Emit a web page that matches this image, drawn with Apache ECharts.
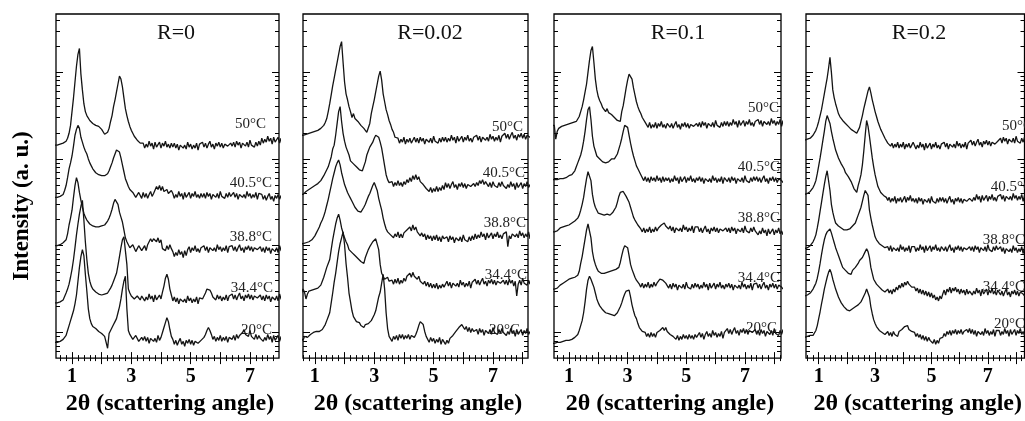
<!DOCTYPE html>
<html>
<head>
<meta charset="utf-8">
<title>SAXS curves</title>
<script src="https://cdn.jsdelivr.net/npm/echarts@6/dist/echarts.min.js"></script>
<style>
  html, body { margin: 0; padding: 0; background: #fff; }
  #chart { width: 1025px; height: 421px; }
</style>
</head>
<body>
<div id="chart"></div>
<script>
// 2theta sampling shared by every curve (degrees)
const twoTheta = [
  0.4, 0.45, 0.5, 0.55, 0.6, 0.65, 0.7, 0.75, 0.8, 0.85, 0.9, 0.95, 1.0, 1.05, 1.1, 1.15, 1.2, 1.25, 1.3, 1.35,
  1.4, 1.45, 1.5, 1.55, 1.6, 1.65, 1.7, 1.75, 1.8, 1.85, 1.9, 1.95, 2.0, 2.05, 2.1, 2.15, 2.2, 2.25, 2.3, 2.35,
  2.4, 2.45, 2.5, 2.55, 2.6, 2.65, 2.7, 2.75, 2.8, 2.85, 2.9, 2.95, 3.0, 3.05, 3.1, 3.15, 3.2, 3.25, 3.3, 3.35,
  3.4, 3.45, 3.5, 3.55, 3.6, 3.65, 3.7, 3.75, 3.8, 3.85, 3.9, 3.95, 4.0, 4.05, 4.1, 4.15, 4.2, 4.25, 4.3, 4.35,
  4.4, 4.45, 4.5, 4.55, 4.6, 4.65, 4.7, 4.75, 4.8, 4.85, 4.9, 4.95, 5.0, 5.05, 5.1, 5.15, 5.2, 5.25, 5.3, 5.35,
  5.4, 5.45, 5.5, 5.55, 5.6, 5.65, 5.7, 5.75, 5.8, 5.85, 5.9, 5.95, 6.0, 6.05, 6.1, 6.15, 6.2, 6.25, 6.3, 6.35,
  6.4, 6.45, 6.5, 6.55, 6.6, 6.65, 6.7, 6.75, 6.8, 6.85, 6.9, 6.95, 7.0, 7.05, 7.1, 7.15, 7.2, 7.25, 7.3, 7.35,
  7.4, 7.45, 7.5, 7.55, 7.6, 7.65, 7.7, 7.75, 7.8, 7.85, 7.9, 7.95, 8.0, 8.05, 8.1, 8.15, 8.2, 8.25, 8.3
];

const ratios = ['R=0', 'R=0.02', 'R=0.1', 'R=0.2'];
const temperatures = ['50\u00b0C', '40.5\u00b0C', '38.8\u00b0C', '34.4\u00b0C', '20\u00b0C'];

const xLabelTicks = [1, 3, 5, 7];
const xMajorTicks = [1, 2, 3, 4, 5, 6, 7, 8];
const xMinorTicks = [0.6, 0.8, 1.2, 1.4, 1.6, 1.8, 2.2, 2.4, 2.6, 2.8, 3.2, 3.4, 3.6, 3.8,
  4.2, 4.4, 4.6, 4.8, 5.2, 5.4, 5.6, 5.8, 6.2, 6.4, 6.6, 6.8, 7.2, 7.4, 7.6, 7.8, 8.2];
const yMajorTicks = [26, 114, 202, 290];
const yMinorTicks = [6.5, 12.4, 17.5, 22,
  52.5, 68, 79, 87.5, 94.5, 100.4, 105.5, 110,
  140.5, 156, 167, 175.5, 182.5, 188.4, 193.5, 198,
  228.5, 244, 255, 263.5, 270.5, 276.4, 281.5, 286,
  316.5, 332, 343];

// R = 0 (stacked intensity, arbitrary units)
const r0_t50 = [
  216, 215, 216, 217, 217, 218, 218, 219, 220, 223, 228, 236, 250, 264, 280, 296, 308, 314, 288, 272,
  258, 250, 246, 244, 241, 240, 238, 239, 236, 237, 235, 233, 232, 230, 227, 225, 229, 233, 240, 246,
  255, 262, 270, 278, 286, 283, 275, 264, 253, 246, 240, 235, 231, 228, 225, 223, 221, 219, 218, 220,
  218, 213, 217, 214, 220, 215, 218, 212, 219, 214, 216, 219, 213, 218, 215, 220, 214, 217, 213, 218,
  214, 218, 213, 217, 211, 216, 218, 213, 216, 212, 219, 214, 217, 212, 216, 213, 218, 211, 217, 215,
  219, 214, 218, 213, 217, 220, 214, 217, 212, 218, 215, 219, 214, 218, 213, 217, 219, 215, 213, 218,
  215, 219, 214, 220, 216, 219, 213, 218, 220, 215, 219, 214, 221, 216, 218, 214, 219, 215, 220, 216,
  223, 218, 222, 219, 225, 220, 223, 217, 224, 219, 221, 224, 218, 223, 220, 225, 219, 222, 218
];
const r0_t405 = [
  163, 162, 163, 164, 164, 165, 166, 170, 175, 183, 192, 198, 205, 215, 226, 232, 236, 233, 224, 219,
  214, 210, 207, 202, 198, 195, 192, 190, 188, 187, 186, 184, 185, 183, 185, 184, 187, 190, 194, 198,
  203, 207, 211, 211, 209, 203, 196, 189, 182, 178, 174, 171, 169, 168, 167, 163, 164, 168, 167, 162,
  168, 163, 167, 162, 166, 169, 164, 167, 168, 174, 171, 175, 170, 174, 169, 169, 171, 167, 165, 170,
  167, 162, 166, 163, 169, 164, 167, 161, 168, 163, 165, 168, 162, 167, 164, 169, 163, 166, 162, 167,
  163, 167, 162, 168, 164, 167, 161, 166, 168, 163, 167, 162, 169, 164, 166, 162, 167, 163, 168, 164,
  164, 168, 163, 167, 161, 166, 168, 163, 166, 162, 169, 164, 167, 162, 166, 163, 168, 161, 167, 165,
  166, 161, 165, 160, 164, 167, 161, 164, 159, 165, 162, 166, 161, 165, 160, 164, 166, 162, 160
];
const r0_t388 = [
  114, 113, 114, 115, 115, 116, 117, 118, 120, 126, 135, 142, 150, 163, 175, 183, 178, 168, 160, 153,
  147, 143, 140, 138, 136, 135, 134, 135, 133, 134, 133, 132, 134, 133, 135, 136, 139, 142, 146, 151,
  157, 161, 163, 156, 148, 143, 138, 130, 122, 118, 115, 112, 111, 115, 113, 108, 109, 114, 113, 109,
  110, 114, 109, 115, 117, 121, 118, 121, 123, 118, 122, 117, 120, 111, 113, 109, 114, 110, 115, 111,
  108, 103, 107, 104, 110, 105, 108, 102, 109, 104, 110, 113, 107, 112, 109, 114, 108, 111, 107, 112,
  110, 114, 109, 113, 107, 112, 114, 109, 112, 108, 115, 110, 113, 108, 112, 109, 114, 107, 113, 111,
  114, 109, 113, 108, 112, 115, 109, 112, 107, 113, 110, 114, 109, 113, 108, 112, 114, 110, 108, 113,
  108, 112, 107, 113, 109, 112, 106, 111, 113, 108, 112, 107, 114, 109, 111, 107, 112, 108, 113
];
const r0_t344 = [
  56, 55, 56, 57, 57, 58, 59, 61, 66, 70, 75, 82, 90, 100, 112, 125, 136, 146, 154, 160,
  140, 118, 100, 86, 78, 73, 70, 68, 67, 66, 65, 64, 64, 63, 65, 64, 66, 68, 71, 74,
  78, 82, 86, 94, 103, 112, 120, 123, 122, 95, 70, 66, 63, 62, 60, 58, 63, 61, 59, 63,
  63, 58, 62, 59, 65, 60, 63, 57, 64, 59, 61, 64, 60, 67, 73, 81, 85, 80, 70, 64,
  58, 62, 57, 61, 55, 60, 62, 57, 60, 56, 63, 58, 61, 56, 60, 57, 62, 55, 61, 59,
  60, 63, 66, 70, 71, 69, 66, 62, 63, 59, 64, 60, 63, 58, 62, 59, 64, 58, 63, 61,
  65, 60, 64, 59, 63, 66, 60, 63, 58, 64, 61, 65, 60, 64, 59, 63, 65, 61, 59, 64,
  59, 63, 58, 64, 60, 63, 57, 62, 64, 59, 63, 58, 65, 60, 62, 58, 63, 59, 64
];
const r0_t20 = [
  16, 15, 16, 17, 17, 18, 19, 21, 23, 28, 33, 38, 43, 48, 55, 64, 78, 92, 103, 110,
  104, 85, 68, 50, 40, 35, 32, 31, 30, 28, 27, 26, 25, 24, 22, 24, 10, 25, 28, 31,
  34, 37, 40, 46, 52, 60, 70, 78, 83, 50, 28, 24, 22, 19, 20, 23, 22, 17, 18, 21,
  18, 22, 17, 21, 15, 20, 22, 17, 20, 16, 23, 18, 21, 26, 31, 36, 41, 37, 29, 22,
  19, 14, 18, 13, 17, 20, 14, 17, 12, 18, 15, 19, 14, 18, 13, 17, 19, 15, 13, 18,
  18, 21, 24, 28, 31, 28, 24, 19, 22, 17, 21, 18, 23, 17, 21, 18, 22, 16, 21, 19,
  19, 23, 18, 24, 20, 23, 22, 26, 29, 24, 26, 22, 28, 22, 24, 19, 24, 19, 23, 20,
  22, 17, 21, 18, 24, 19, 22, 16, 23, 18, 20, 23, 17, 22, 19, 24, 18, 21, 17
];

// R = 0.02
const r02_t50 = [
  226, 226, 226, 225, 226, 227, 227, 228, 228, 229, 229, 230, 230, 231, 231, 232, 233, 234, 236, 239,
  243, 250, 258, 267, 276, 284, 292, 300, 308, 316, 321, 300, 280, 268, 262, 255, 250, 244, 248, 243,
  245, 240, 241, 236, 238, 233, 232, 229, 228, 238, 248, 255, 262, 270, 278, 286, 291, 282, 268, 260,
  252, 247, 241, 237, 232, 229, 224, 226, 223, 218, 222, 219, 224, 217, 222, 219, 223, 218, 221, 224,
  219, 223, 218, 224, 220, 223, 217, 222, 224, 219, 223, 218, 225, 220, 222, 218, 223, 219, 224, 220,
  224, 219, 223, 220, 226, 221, 224, 218, 225, 220, 222, 225, 219, 224, 221, 226, 220, 223, 219, 224,
  222, 226, 221, 225, 219, 224, 226, 221, 224, 220, 227, 222, 225, 220, 224, 221, 226, 219, 225, 223,
  228, 223, 227, 222, 226, 229, 223, 226, 221, 227, 224, 228, 223, 227, 222, 226, 228, 224, 222
];
const r02_t405 = [
  167, 167, 166, 167, 166, 168, 169, 170, 171, 172, 173, 174, 175, 176, 177, 178, 180, 182, 185, 188,
  191, 194, 196, 204, 212, 216, 226, 238, 250, 255, 240, 228, 220, 214, 212, 206, 200, 202, 197, 199,
  194, 196, 191, 193, 190, 192, 199, 206, 210, 214, 216, 219, 223, 226, 228, 224, 219, 213, 204, 195,
  186, 181, 178, 176, 179, 174, 178, 175, 180, 175, 178, 174, 179, 176, 181, 178, 183, 179, 185, 181,
  186, 181, 184, 179, 180, 176, 177, 172, 174, 169, 173, 168, 172, 169, 174, 169, 173, 170, 175, 171,
  178, 173, 177, 172, 176, 179, 173, 176, 171, 177, 174, 178, 173, 177, 172, 176, 178, 174, 172, 177,
  174, 178, 175, 180, 177, 181, 176, 179, 180, 174, 178, 173, 179, 175, 177, 173, 178, 174, 179, 175,
  177, 172, 176, 173, 179, 174, 177, 171, 178, 173, 175, 178, 172, 177, 174, 179, 173, 176, 172
];
const r02_t388 = [
  116, 117, 116, 115, 116, 117, 117, 118, 118, 119, 120, 122, 124, 127, 130, 133, 137, 140, 144, 149,
  155, 161, 168, 175, 182, 188, 194, 198, 201, 196, 188, 182, 176, 172, 168, 165, 162, 159, 156, 153,
  151, 149, 150, 148, 150, 153, 156, 160, 164, 167, 171, 175, 178, 177, 170, 162, 156, 150, 142, 136,
  131, 128, 126, 125, 127, 122, 126, 123, 128, 122, 126, 122, 127, 125, 130, 128, 133, 129, 135, 130,
  133, 128, 130, 124, 127, 123, 126, 120, 125, 121, 124, 119, 124, 120, 125, 119, 123, 118, 124, 121,
  119, 123, 118, 124, 120, 123, 117, 122, 124, 119, 123, 118, 125, 120, 122, 118, 123, 119, 124, 120,
  126, 121, 125, 122, 128, 123, 126, 120, 127, 122, 124, 127, 121, 126, 123, 128, 122, 125, 121, 126,
  124, 128, 113, 124, 121, 126, 128, 123, 126, 122, 129, 124, 127, 122, 126, 123, 128, 121, 127
];
const r02_t344 = [
  62, 62, 62, 64, 70, 67, 60, 65, 68, 69, 69, 70, 70, 71, 71, 72, 74, 78, 82, 87,
  92, 96, 100, 110, 120, 128, 136, 142, 146, 140, 132, 127, 122, 118, 115, 110, 109, 107, 106, 104,
  105, 101, 103, 98, 97, 96, 102, 106, 110, 113, 115, 118, 120, 121, 121, 110, 95, 86, 83, 80,
  79, 82, 78, 77, 79, 75, 80, 76, 81, 75, 79, 76, 81, 78, 83, 81, 86, 82, 87, 83,
  85, 80, 83, 78, 80, 75, 78, 73, 77, 72, 76, 71, 75, 71, 76, 70, 74, 71, 75, 72,
  74, 78, 73, 77, 71, 76, 78, 73, 76, 72, 79, 74, 77, 72, 76, 73, 78, 71, 77, 75,
  80, 75, 79, 74, 78, 81, 75, 78, 73, 79, 76, 80, 75, 79, 74, 78, 80, 76, 74, 79,
  75, 79, 74, 80, 76, 79, 73, 78, 63, 75, 79, 74, 81, 76, 78, 74, 79, 75, 80
];
const r02_t20 = [
  21, 20, 21, 19, 18, 22, 20, 21, 22, 24, 25, 26, 26, 27, 27, 27, 28, 29, 31, 34,
  38, 42, 46, 56, 66, 77, 86, 97, 108, 116, 122, 128, 115, 96, 82, 66, 57, 48, 42, 40,
  37, 35, 36, 33, 35, 31, 34, 32, 35, 33, 38, 41, 44, 48, 55, 62, 67, 76, 85, 70,
  46, 30, 22, 20, 17, 22, 19, 23, 18, 24, 20, 24, 19, 23, 20, 24, 19, 23, 25, 21,
  24, 28, 33, 37, 38, 34, 27, 22, 20, 16, 21, 17, 20, 15, 19, 16, 21, 14, 19, 17,
  14, 18, 15, 20, 18, 23, 22, 27, 26, 31, 29, 34, 33, 29, 32, 27, 31, 26, 30, 27,
  25, 29, 24, 30, 26, 29, 23, 28, 30, 25, 29, 24, 31, 26, 28, 24, 29, 25, 30, 26,
  28, 23, 27, 24, 30, 25, 28, 22, 29, 24, 26, 29, 23, 28, 25, 30, 24, 27, 23
];

// R = 0.1
const r01_t50 = [
  236, 236, 236, 222, 230, 233, 235, 235, 235, 236, 236, 237, 237, 238, 238, 239, 239, 240, 242, 245,
  250, 255, 262, 270, 278, 290, 302, 312, 316, 300, 283, 272, 265, 261, 258, 254, 253, 250, 253, 249,
  251, 247, 249, 244, 246, 241, 243, 240, 250, 256, 265, 274, 282, 288, 290, 283, 274, 267, 260, 255,
  251, 248, 244, 242, 239, 238, 234, 239, 233, 237, 234, 239, 233, 238, 235, 240, 234, 237, 233, 238,
  239, 234, 238, 233, 237, 240, 234, 237, 232, 238, 235, 239, 234, 238, 233, 237, 239, 235, 233, 238,
  235, 239, 234, 240, 236, 239, 233, 238, 240, 235, 239, 234, 241, 236, 238, 234, 239, 235, 240, 236,
  240, 235, 239, 236, 242, 237, 240, 234, 241, 236, 238, 241, 235, 240, 237, 242, 236, 239, 235, 240,
  238, 242, 237, 241, 235, 240, 242, 237, 240, 236, 243, 238, 241, 236, 240, 237, 242, 235, 241
];
const r01_t405 = [
  181, 181, 181, 182, 181, 181, 182, 182, 182, 183, 183, 184, 185, 186, 186, 187, 190, 194, 198, 202,
  206, 212, 220, 230, 242, 252, 255, 242, 225, 215, 210, 205, 203, 202, 201, 199, 200, 198, 200, 199,
  201, 202, 203, 202, 204, 207, 212, 217, 223, 230, 236, 238, 234, 226, 218, 211, 205, 200, 195, 192,
  189, 186, 184, 180, 184, 179, 183, 178, 184, 180, 183, 179, 185, 180, 183, 178, 184, 179, 183, 180,
  183, 178, 182, 179, 185, 180, 183, 177, 184, 179, 181, 184, 178, 183, 180, 185, 179, 182, 178, 183,
  180, 184, 179, 183, 177, 182, 184, 179, 182, 178, 185, 180, 183, 178, 182, 179, 184, 177, 183, 181,
  179, 183, 178, 184, 180, 183, 177, 182, 184, 179, 183, 178, 185, 180, 182, 178, 183, 179, 184, 180,
  184, 179, 183, 178, 182, 185, 179, 182, 177, 183, 180, 184, 179, 183, 178, 182, 184, 180, 178
];
const r01_t388 = [
  128, 128, 128, 127, 129, 131, 132, 133, 133, 134, 134, 135, 135, 136, 137, 138, 139, 140, 142, 145,
  150, 156, 163, 173, 182, 189, 191, 180, 166, 158, 153, 150, 147, 146, 146, 144, 145, 144, 146, 144,
  145, 146, 148, 150, 153, 158, 164, 168, 170, 169, 167, 164, 162, 158, 153, 148, 143, 140, 138, 135,
  133, 131, 128, 132, 127, 131, 128, 133, 127, 131, 128, 133, 129, 132, 131, 135, 133, 137, 134, 136,
  131, 134, 129, 133, 127, 132, 134, 129, 132, 128, 135, 130, 133, 128, 132, 129, 134, 127, 133, 131,
  133, 128, 132, 127, 131, 134, 128, 131, 126, 132, 129, 133, 128, 132, 127, 131, 133, 129, 127, 132,
  128, 132, 127, 133, 129, 132, 126, 131, 133, 128, 132, 127, 134, 129, 131, 127, 132, 128, 133, 129,
  130, 125, 129, 126, 132, 127, 130, 124, 131, 126, 128, 131, 125, 130, 127, 132, 126, 129, 125
];
const r01_t344 = [
  70, 70, 70, 71, 71, 73, 74, 75, 76, 77, 78, 79, 80, 80, 81, 81, 82, 83, 84, 88,
  96, 103, 112, 121, 130, 136, 134, 122, 108, 100, 95, 91, 88, 87, 86, 86, 86, 85, 87, 86,
  88, 87, 89, 88, 90, 91, 92, 97, 104, 110, 114, 115, 112, 104, 95, 90, 86, 82, 79, 77,
  75, 72, 76, 71, 75, 72, 77, 71, 75, 72, 77, 73, 76, 78, 80, 82, 79, 81, 76, 78,
  71, 75, 70, 76, 72, 75, 69, 74, 76, 71, 75, 70, 77, 72, 74, 70, 75, 71, 76, 72,
  75, 70, 74, 71, 77, 72, 75, 69, 76, 71, 73, 76, 70, 75, 72, 77, 71, 74, 70, 75,
  72, 76, 71, 75, 69, 74, 76, 71, 74, 70, 77, 72, 75, 70, 74, 71, 76, 69, 75, 73,
  76, 71, 75, 70, 74, 77, 71, 74, 69, 75, 72, 76, 71, 75, 70, 74, 76, 72, 70
];
const r01_t20 = [
  15, 15, 15, 14, 16, 16, 16, 17, 17, 17, 18, 18, 18, 19, 19, 20, 21, 22, 24, 28,
  33, 38, 46, 57, 70, 79, 83, 80, 76, 72, 66, 60, 56, 53, 51, 49, 47, 46, 46, 45,
  44, 44, 43, 43, 44, 46, 48, 52, 56, 61, 65, 68, 70, 69, 62, 54, 48, 43, 40, 35,
  31, 29, 27, 25, 26, 22, 25, 21, 26, 22, 25, 21, 26, 24, 28, 27, 31, 28, 31, 27,
  28, 24, 26, 22, 24, 19, 23, 18, 22, 19, 24, 20, 23, 19, 24, 20, 23, 19, 24, 21,
  22, 26, 21, 25, 19, 24, 27, 22, 25, 21, 28, 23, 26, 21, 25, 22, 27, 20, 26, 24,
  30, 25, 29, 24, 28, 31, 25, 28, 23, 29, 26, 30, 25, 29, 24, 28, 30, 26, 24, 29,
  24, 28, 23, 29, 25, 28, 22, 27, 29, 24, 28, 23, 30, 25, 27, 23, 28, 24, 29
];

// R = 0.2
const r2_t50 = [
  221, 221, 221, 221, 222, 223, 223, 224, 226, 228, 231, 235, 240, 246, 252, 260, 268, 276, 284, 294,
  305, 290, 272, 264, 258, 253, 248, 245, 246, 241, 242, 238, 239, 235, 236, 232, 234, 230, 231, 228,
  230, 234, 240, 246, 253, 259, 265, 271, 275, 269, 262, 256, 250, 245, 240, 236, 232, 229, 226, 223,
  221, 218, 219, 215, 218, 213, 217, 214, 219, 213, 217, 214, 219, 212, 217, 214, 218, 213, 216, 219,
  217, 212, 216, 213, 219, 214, 217, 211, 218, 213, 215, 218, 212, 217, 214, 219, 213, 216, 212, 217,
  215, 219, 214, 218, 212, 217, 219, 214, 217, 213, 220, 215, 218, 213, 217, 214, 219, 212, 218, 216,
  221, 216, 220, 215, 219, 222, 216, 219, 214, 220, 217, 221, 216, 220, 215, 219, 221, 217, 215, 220,
  219, 223, 218, 224, 220, 223, 217, 222, 224, 219, 223, 218, 225, 220, 222, 218, 223, 219, 224
];
const r2_t405 = [
  166, 166, 166, 167, 167, 168, 169, 171, 173, 176, 180, 187, 195, 203, 212, 221, 230, 240, 246, 248,
  238, 230, 223, 217, 211, 207, 203, 200, 197, 195, 192, 188, 189, 184, 184, 179, 178, 172, 170, 168,
  175, 180, 186, 196, 210, 226, 241, 235, 225, 214, 203, 194, 186, 180, 174, 171, 168, 166, 165, 163,
  163, 160, 163, 158, 162, 159, 164, 157, 162, 159, 163, 158, 161, 164, 158, 163, 160, 165, 159, 162,
  158, 162, 157, 163, 159, 162, 156, 161, 163, 158, 162, 157, 164, 159, 161, 157, 162, 158, 163, 159,
  163, 158, 162, 157, 161, 164, 158, 161, 156, 162, 159, 163, 158, 162, 157, 161, 163, 159, 157, 162,
  164, 159, 163, 160, 166, 161, 164, 158, 165, 160, 162, 165, 159, 164, 161, 166, 160, 163, 159, 164,
  162, 166, 161, 165, 159, 164, 166, 161, 164, 160, 167, 162, 165, 160, 164, 161, 166, 159, 165
];
const r2_t388 = [
  111, 111, 111, 112, 112, 113, 114, 116, 118, 121, 125, 132, 140, 149, 158, 167, 176, 184, 190, 188,
  170, 156, 148, 142, 137, 135, 134, 132, 132, 131, 130, 131, 130, 129, 131, 132, 134, 135, 137, 141,
  145, 149, 153, 159, 165, 170, 171, 165, 150, 142, 135, 129, 123, 120, 118, 116, 115, 114, 113, 112,
  112, 113, 109, 114, 108, 112, 114, 109, 112, 108, 115, 110, 113, 108, 112, 109, 114, 107, 113, 111,
  113, 108, 112, 109, 115, 110, 113, 107, 114, 109, 111, 114, 108, 113, 110, 115, 109, 112, 108, 113,
  114, 109, 113, 108, 112, 115, 109, 112, 107, 113, 110, 114, 109, 113, 108, 112, 114, 110, 108, 113,
  109, 113, 108, 114, 110, 113, 107, 112, 114, 109, 113, 108, 115, 110, 112, 108, 113, 109, 114, 110,
  109, 113, 108, 112, 106, 111, 113, 108, 111, 107, 114, 109, 112, 107, 111, 108, 113, 106, 112
];
const r2_t344 = [
  63, 63, 63, 64, 64, 65, 66, 68, 70, 73, 76, 81, 88, 96, 105, 113, 120, 125, 128, 130,
  131, 127, 122, 117, 112, 108, 104, 100, 96, 92, 93, 89, 90, 86, 88, 85, 89, 88, 92, 92,
  96, 99, 100, 102, 104, 108, 111, 108, 102, 92, 86, 80, 78, 75, 76, 72, 73, 69, 70, 67,
  67, 70, 66, 69, 65, 70, 67, 72, 69, 74, 71, 76, 72, 77, 74, 78, 75, 77, 72, 74,
  72, 68, 71, 66, 70, 65, 69, 64, 68, 63, 67, 62, 66, 61, 64, 59, 62, 58, 63, 60,
  65, 69, 64, 70, 67, 72, 66, 71, 68, 72, 67, 70, 65, 70, 66, 69, 64, 70, 65, 68,
  69, 64, 68, 65, 71, 66, 69, 63, 70, 65, 67, 70, 64, 69, 66, 71, 65, 68, 64, 69,
  69, 64, 68, 63, 67, 70, 64, 67, 62, 68, 65, 69, 64, 68, 63, 67, 69, 65, 63
];
const r2_t20 = [
  21, 21, 21, 22, 22, 22, 23, 23, 23, 25, 28, 33, 40, 47, 55, 62, 70, 76, 82, 87,
  90, 86, 80, 75, 70, 66, 62, 59, 56, 54, 52, 50, 49, 47, 48, 46, 50, 48, 52, 51,
  54, 55, 57, 60, 62, 66, 70, 69, 62, 52, 45, 39, 35, 32, 30, 28, 27, 26, 26, 24,
  24, 27, 23, 26, 22, 27, 24, 26, 22, 27, 25, 29, 28, 32, 30, 33, 29, 31, 27, 28,
  26, 22, 25, 21, 24, 19, 23, 18, 22, 17, 21, 18, 20, 15, 19, 14, 18, 15, 20, 18,
  21, 25, 22, 27, 24, 28, 23, 28, 25, 29, 24, 28, 25, 29, 24, 27, 25, 29, 26, 30,
  25, 29, 24, 28, 22, 27, 29, 24, 27, 23, 30, 25, 28, 23, 27, 24, 29, 22, 28, 26,
  28, 23, 27, 24, 30, 25, 28, 22, 29, 24, 26, 29, 23, 28, 25, 30, 24, 27, 23
];

const panelCurves = [
  [r0_t50, r0_t405, r0_t388, r0_t344, r0_t20],
  [r02_t50, r02_t405, r02_t388, r02_t344, r02_t20],
  [r01_t50, r01_t405, r01_t388, r01_t344, r01_t20],
  [r2_t50, r2_t405, r2_t388, r2_t344, r2_t20]
];

// layout of the four frames (pixels) and their 2theta windows
const layout = [
  { left: 56, width: 223, xMin: 0.46, xMax: 7.98, titleX: 176, labelX: [266, 272, 272, 273, 272], labelY: [124, 183, 237, 288, 330] },
  { left: 303, width: 225, xMin: 0.6, xMax: 8.18, titleX: 430, labelX: [523, 525, 526, 527, 520], labelY: [127, 173, 223, 275, 330] },
  { left: 554, width: 227, xMin: 0.49, xMax: 8.23, titleX: 678, labelX: [779, 780, 780, 780, 777], labelY: [108, 167, 218, 278, 328] },
  { left: 806, width: 222, xMin: 0.55, xMax: 8.3, titleX: 919, labelX: [1033, 1033, 1025, 1025, 1025], labelY: [126, 187, 240, 287, 324] }
];
const gridTop = 14;
const gridHeight = 349;
const serif = '"Liberation Serif", "DejaVu Serif", serif';

const chart = echarts.init(document.getElementById('chart'), null, { renderer: 'canvas' });

const grids = [];
const xAxes = [];
const yAxes = [];
const series = [];
const graphics = [];

layout.forEach((lay, p) => {
  grids.push({
    left: lay.left, top: gridTop, width: lay.width, height: gridHeight,
    show: true, borderColor: '#000', borderWidth: 1.3, backgroundColor: 'transparent'
  });

  const inRange = v => v >= lay.xMin && v <= lay.xMax;
  const tickStyle = { color: '#000', width: 1 };
  const baseX = {
    type: 'value', gridIndex: p, min: lay.xMin, max: lay.xMax,
    axisLine: { show: false }, splitLine: { show: false }
  };
  const firstX = xAxes.length;
  xAxes.push(Object.assign({}, baseX, {
    position: 'bottom',
    axisTick: { inside: true, length: 6, customValues: xMajorTicks.filter(inRange), lineStyle: tickStyle },
    axisLabel: {
      customValues: xLabelTicks, margin: 9, color: '#000',
      fontFamily: serif, fontWeight: 'bold', fontSize: 20
    },
    name: '2\u03b8 (scattering angle)', nameLocation: 'middle', nameGap: 32,
    nameTextStyle: { color: '#000', fontFamily: serif, fontWeight: 'bold', fontSize: 24, padding: [0, 0, 0, 5] }
  }));
  xAxes.push(Object.assign({}, baseX, {
    position: 'bottom',
    axisTick: { inside: true, length: 3, customValues: xMinorTicks.filter(inRange), lineStyle: tickStyle },
    axisLabel: { show: false }
  }));
  xAxes.push(Object.assign({}, baseX, {
    position: 'top',
    axisTick: { inside: true, length: 6, customValues: xMajorTicks.filter(inRange), lineStyle: tickStyle },
    axisLabel: { show: false }
  }));
  xAxes.push(Object.assign({}, baseX, {
    position: 'top',
    axisTick: { inside: true, length: 3, customValues: xMinorTicks.filter(inRange), lineStyle: tickStyle },
    axisLabel: { show: false }
  }));

  const baseY = {
    type: 'value', gridIndex: p, min: 0, max: gridHeight,
    axisLine: { show: false }, splitLine: { show: false }, axisLabel: { show: false }
  };
  const firstY = yAxes.length;
  ['left', 'right'].forEach(side => {
    yAxes.push(Object.assign({}, baseY, {
      position: side,
      axisTick: { inside: true, length: 7, customValues: yMajorTicks, lineStyle: tickStyle }
    }));
    yAxes.push(Object.assign({}, baseY, {
      position: side,
      axisTick: { inside: true, length: 4, customValues: yMinorTicks, lineStyle: tickStyle }
    }));
  });

  panelCurves[p].forEach((curve, k) => {
    if (curve.length !== twoTheta.length) console.warn('length mismatch', p, k, curve.length);
    series.push({
      type: 'line',
      name: ratios[p] + ' ' + temperatures[k],
      xAxisIndex: firstX,
      yAxisIndex: firstY,
      data: twoTheta.map((x, i) => [x, curve[i]]),
      showSymbol: false,
      symbol: 'none',
      clip: true,
      silent: true,
      lineStyle: { color: '#141414', width: 1.3 }
    });
    graphics.push({
      type: 'text', x: lay.labelX[k], y: lay.labelY[k], silent: true,
      style: {
        text: temperatures[k], fill: '#222', fontFamily: serif, fontSize: 15,
        textAlign: 'right', textVerticalAlign: 'middle'
      }
    });
  });

  graphics.push({
    type: 'text', x: lay.titleX, y: 33, silent: true,
    style: {
      text: ratios[p], fill: '#111', fontFamily: serif, fontSize: 22,
      textAlign: 'center', textVerticalAlign: 'middle'
    }
  });
});

graphics.push({
  type: 'text', x: 22, y: 206, rotation: Math.PI / 2, silent: true,
  style: {
    text: 'Intensity (a. u.)', fill: '#000', fontFamily: serif, fontSize: 23, fontWeight: 'bold',
    textAlign: 'center', textVerticalAlign: 'middle'
  }
});

chart.setOption({
  animation: false,
  backgroundColor: '#fff',
  grid: grids,
  xAxis: xAxes,
  yAxis: yAxes,
  series: series,
  graphic: graphics
});
</script>
</body>
</html>
